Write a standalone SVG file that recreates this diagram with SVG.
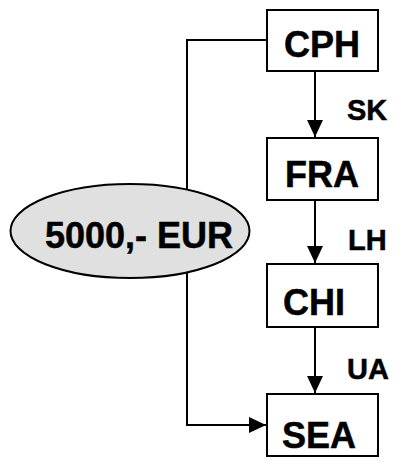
<svg xmlns="http://www.w3.org/2000/svg" width="405" height="462" viewBox="0 0 405 462">
<style>
.box{fill:#fff;stroke:#000;stroke-width:2}
.lbl{font-family:"Liberation Sans",Arial,sans-serif;font-weight:bold;fill:#000;stroke:#000;stroke-width:0.5}
.big{font-size:36px;text-anchor:middle}
.small{font-size:29px}
.conn{fill:none;stroke:#000;stroke-width:2}
</style>
<defs>
<marker id="ah" markerUnits="userSpaceOnUse" markerWidth="18" markerHeight="16" refX="17" refY="8" orient="auto">
<path d="M0,0 L17,8 L0,16 Z" fill="#000"/>
</marker>
</defs>
<g id="connectors">
<path class="conn" d="M267,40 H187 V425 H266" marker-end="url(#ah)"/>
<path class="conn" d="M315,71 V137" marker-end="url(#ah)"/>
<path class="conn" d="M315,200 V263" marker-end="url(#ah)"/>
<path class="conn" d="M315,327 V393" marker-end="url(#ah)"/>
<text class="lbl small" x="347" y="120">SK</text>
<text class="lbl small" x="348" y="250">LH</text>
<text class="lbl small" x="347" y="379">UA</text>
</g>
<g id="eur">
<ellipse cx="130" cy="231" rx="119.5" ry="47" fill="#e0e0e0" stroke="#000" stroke-width="2"/>
<text class="lbl" x="139" y="248" font-size="36" text-anchor="middle">5000,- EUR</text>
</g>
<g id="cph">
<rect class="box" x="267" y="10" width="111" height="61"/>
<text class="lbl big" x="322" y="57">CPH</text>
</g>
<g id="fra">
<rect class="box" x="267" y="138" width="111" height="62"/>
<text class="lbl big" x="322" y="187">FRA</text>
</g>
<g id="chi">
<rect class="box" x="267" y="264" width="111" height="63"/>
<text class="lbl big" x="314" y="315">CHI</text>
</g>
<g id="sea">
<rect class="box" x="267" y="394" width="111" height="62"/>
<text class="lbl big" x="319" y="448">SEA</text>
</g>
</svg>
